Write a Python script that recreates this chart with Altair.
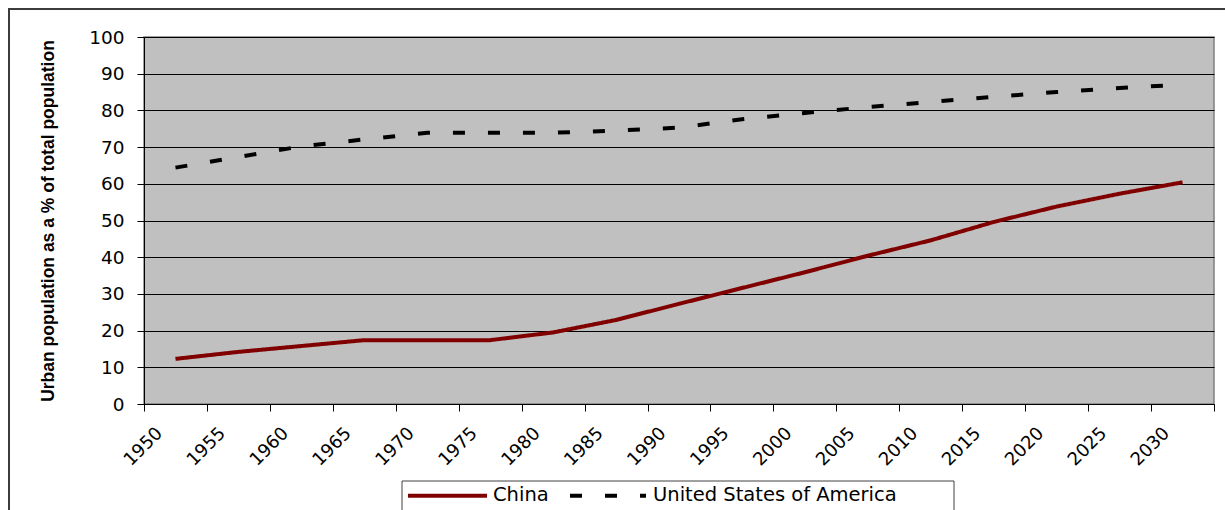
import altair as alt
import pandas as pd

# Urban population share (% of total), UN estimates and projections
years = [1950, 1955, 1960, 1965, 1970, 1975, 1980, 1985, 1990,
         1995, 2000, 2005, 2010, 2015, 2020, 2025, 2030]
china = [12.3, 14.2, 15.8, 17.4, 17.4, 17.4, 19.5, 22.9, 27.3,
         31.6, 35.9, 40.4, 44.6, 49.6, 53.8, 57.3, 60.4]
usa = [64.4, 67.3, 70.2, 72.1, 73.9, 73.9, 73.9, 74.5, 75.3,
       77.6, 79.3, 80.9, 82.3, 83.7, 85.0, 86.1, 87.0]

series_names = ["China", "United States of America"]
series_colors = ["#800000", "#000000"]
series_dashes = [[1, 0], [12, 23]]
series_widths = [4, 4]

y_ticks = [0, 10, 20, 30, 40, 50, 60, 70, 80, 90, 100]
x_ticks = years + [2035]
y_title = "Urban population as a % of total population"

rows = []
for name, vals in zip(series_names, [china, usa]):
    for yr, v in zip(years, vals):
        rows.append({"series": name, "year": yr, "pct": v})
df = pd.DataFrame(rows)

W, H = 1070, 367
LEFT, TOP = 144, 37

x_axis = alt.Axis(
    values=x_ticks, format="d",
    labelExpr="datum.value <= 2030 ? datum.label : ''",
    labelAngle=315, labelAlign="right", labelBaseline="top",
    labelFont="DejaVu Sans", labelFontSize=18, labelColor="black",
    labelPadding=13, labelOffset=9, labelOverlap=False, labelFlush=False,
    tickSize=7, tickColor="black", domainColor="black",
    grid=False, title=None,
)
y_axis = alt.Axis(
    values=y_ticks,
    labelFont="DejaVu Sans", labelFontSize=18.5, labelColor="black",
    labelPadding=13, labelOverlap=False,
    tickSize=7, tickColor="black", domainColor="black",
    grid=True, gridColor="black", gridWidth=1,
    title=y_title, titleFont="Liberation Sans", titleFontSize=17.5,
    titleFontWeight="bold", titleColor="black", titleAngle=270,
    titleX=53 - LEFT, titleY=H / 2, titleAlign="center",
    titleBaseline="alphabetic",
)

# category centres sit half a step to the right of each year tick
lines = alt.Chart(df).transform_calculate(
    xc="datum.year + 2.5"
).mark_line(strokeCap="butt").encode(
    x=alt.X("xc:Q", scale=alt.Scale(domain=[1950, 2035], nice=False, zero=False), axis=x_axis),
    y=alt.Y("pct:Q", scale=alt.Scale(domain=[0, 100], nice=False), axis=y_axis),
    color=alt.Color("series:N", scale=alt.Scale(domain=series_names, range=series_colors), legend=None),
    strokeDash=alt.StrokeDash("series:N", scale=alt.Scale(domain=series_names, range=series_dashes), legend=None),
    strokeWidth=alt.StrokeWidth("series:N", scale=alt.Scale(domain=series_names, range=series_widths), legend=None),
)

one = alt.Chart(pd.DataFrame({"k": [0]}))

# outer chart frame
frame = one.mark_rect(filled=False, stroke="#3c3c3c", strokeWidth=2).encode(
    x=alt.value(9 - LEFT), x2=alt.value(1300 - LEFT),
    y=alt.value(9 - TOP), y2=alt.value(560 - TOP),
)

# legend box with keys and labels
legend_box = one.mark_rect(filled=False, stroke="#404040", strokeWidth=1).encode(
    x=alt.value(402 - LEFT), x2=alt.value(954 - LEFT),
    y=alt.value(481 - TOP), y2=alt.value(560 - TOP),
)
key_china = one.mark_rule(color=series_colors[0], strokeWidth=4).encode(
    x=alt.value(408 - LEFT), x2=alt.value(487 - LEFT), y=alt.value(495.7 - TOP),
)
key_usa = one.mark_rule(color=series_colors[1], strokeWidth=4, strokeDash=series_dashes[1],
                        strokeCap="butt").encode(
    x=alt.value(570 - LEFT), x2=alt.value(646 - LEFT), y=alt.value(495.7 - TOP),
)
label_china = one.mark_text(align="left", baseline="alphabetic", font="DejaVu Sans",
                            fontSize=19.5, color="black").encode(
    x=alt.value(493 - LEFT), y=alt.value(500.5 - TOP), text=alt.value(series_names[0]),
)
label_usa = one.mark_text(align="left", baseline="alphabetic", font="DejaVu Sans",
                          fontSize=19.5, color="black").encode(
    x=alt.value(653 - LEFT), y=alt.value(500.5 - TOP), text=alt.value(series_names[1]),
)

chart = alt.layer(
    frame, lines, legend_box, key_china, key_usa, label_china, label_usa
).properties(
    width=W, height=H,
    autosize=alt.AutoSizeParams(type="none"),
    padding={"left": LEFT, "top": TOP, "right": 1225 - LEFT - W, "bottom": 510 - TOP - H},
    background="white",
).configure_view(
    fill="#C0C0C0", stroke="#808080", strokeWidth=1.5,
)

chart.save("out.html", embed_options={"renderer": "svg", "actions": False})
